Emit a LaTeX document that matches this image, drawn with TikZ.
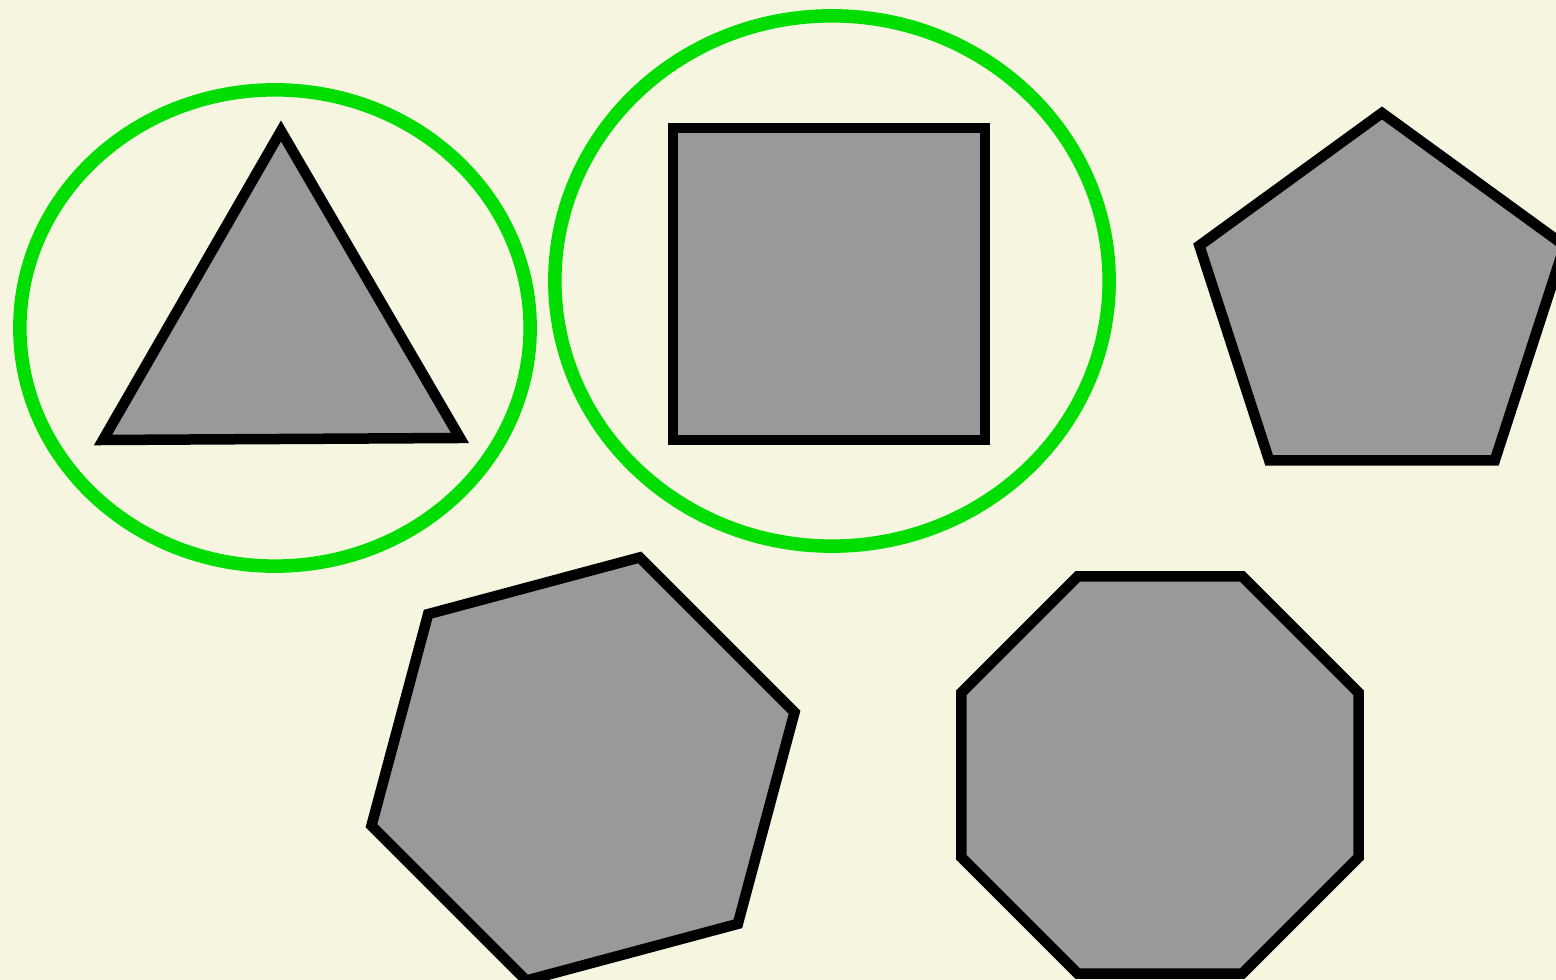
\documentclass[tikz,border=0pt]{standalone}
\definecolor{bg}{HTML}{F5F5E0}
\definecolor{shapegray}{HTML}{999999}
\definecolor{ringgreen}{HTML}{00DD00}
\tikzset{
  poly/.style={draw=black, fill=shapegray, line width=0.105cm, line join=miter},
  ring/.style={draw=ringgreen, line width=0.135cm}
}
\begin{document}
\begin{tikzpicture}[x=0.01cm,y=-0.01cm]
\useasboundingbox (0,0) rectangle (1556,980);
\fill[bg] (0,0) rectangle (1556,980);
\clip (0,0) rectangle (1556,980);
% triangle
\draw[poly] (281,131) -- (460,438) -- (103,440) -- cycle;
% square
\draw[poly] (673,128) rectangle (985,440);
% pentagon
\draw[poly] ({1382+192*cos(90)},{305-192*sin(90)})
  \foreach \a in {162,234,306,18} {-- ({1382+192*cos(\a)},{305-192*sin(\a)})} -- cycle;
% hexagon
\draw[poly] ({583+219*cos(15)},{769-219*sin(15)})
  \foreach \a in {75,135,195,255,315} {-- ({583+219*cos(\a)},{769-219*sin(\a)})} -- cycle;
% octagon
\draw[poly] ({1160+215*cos(22.5)},{775-215*sin(22.5)})
  \foreach \a in {67.5,112.5,157.5,202.5,247.5,292.5,337.5} {-- ({1160+215*cos(\a)},{775-215*sin(\a)})} -- cycle;
% green rings
\draw[ring] (275,328) ellipse [x radius=2.55cm, y radius=2.38cm];
\draw[ring] (832,281) ellipse [x radius=2.77cm, y radius=2.65cm];
\end{tikzpicture}
\end{document}
